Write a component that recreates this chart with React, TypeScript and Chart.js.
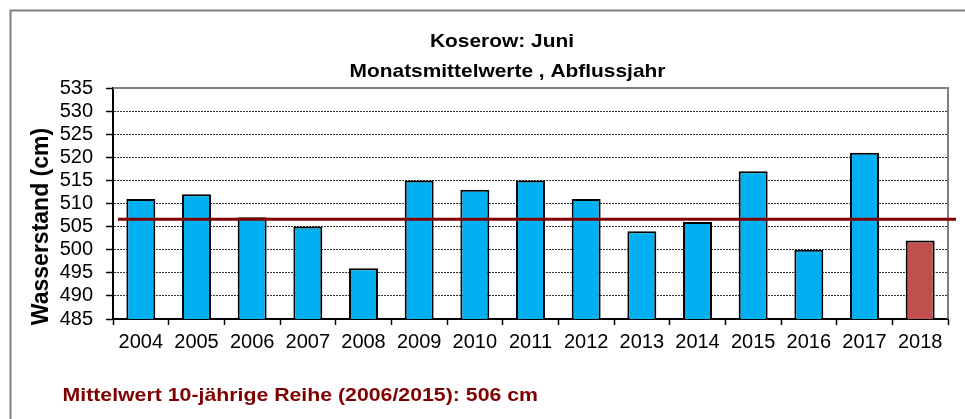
import React, { useEffect, useRef } from 'react';
import { Chart, registerables } from 'chart.js';

Chart.register(...registerables);

// ---- data ----
const years = ['2004', '2005', '2006', '2007', '2008', '2009', '2010', '2011', '2012', '2013', '2014', '2015', '2016', '2017', '2018'];
const waterLevels = [511, 512, 507, 505, 496, 515, 513, 515, 511, 504, 506, 517, 500, 521, 502];
const barColors = ['#00B0F0', '#00B0F0', '#00B0F0', '#00B0F0', '#00B0F0', '#00B0F0', '#00B0F0', '#00B0F0', '#00B0F0', '#00B0F0', '#00B0F0', '#00B0F0', '#00B0F0', '#00B0F0', '#C0504D'];
const meanValue = 506.6;
const yMin = 485;
const yMax = 535;
const yStep = 5;

const titleText = 'Koserow: Juni';
const subtitleText = 'Monatsmittelwerte , Abflussjahr';
const yAxisTitle = 'Wasserstand (cm)';
const noteText = 'Mittelwert 10-jährige Reihe (2006/2015): 506 cm';

const FONT = '"Liberation Sans", Arial, sans-serif';

function drawText(ctx: CanvasRenderingContext2D, text: string, x: number, y: number, font: string, color: string, align: CanvasTextAlign, sx: number) {
  ctx.save();
  ctx.font = font;
  ctx.fillStyle = color;
  ctx.textAlign = align;
  ctx.textBaseline = 'alphabetic';
  ctx.translate(x, y);
  ctx.scale(sx, 1);
  ctx.fillText(text, 0, 0);
  ctx.restore();
}

const decorPlugin = {
  id: 'decor',
  beforeDraw(chart: any) {
    const ctx = chart.ctx as CanvasRenderingContext2D;
    ctx.save();
    ctx.fillStyle = '#ffffff';
    ctx.fillRect(0, 0, chart.width, chart.height);
    ctx.strokeStyle = '#808080';
    ctx.lineWidth = 2;
    ctx.strokeRect(10.5, 10.5, chart.width + 50, chart.height + 50);
    ctx.restore();
  },
  beforeDatasetsDraw(chart: any) {
    const ctx = chart.ctx as CanvasRenderingContext2D;
    const { left, right, top, bottom } = chart.chartArea;
    ctx.save();
    ctx.strokeStyle = '#808080';
    ctx.lineWidth = 2;
    ctx.beginPath();
    ctx.moveTo(left, top);
    ctx.lineTo(right, top);
    ctx.lineTo(right, bottom);
    ctx.stroke();
    ctx.restore();
  },
  afterDatasetsDraw(chart: any) {
    const ctx = chart.ctx as CanvasRenderingContext2D;
    const { left, right } = chart.chartArea;
    const y = chart.scales.y.getPixelForValue(meanValue);
    ctx.save();
    ctx.strokeStyle = '#800000';
    ctx.lineWidth = 3;
    ctx.beginPath();
    ctx.moveTo(left + 5, y);
    ctx.lineTo(right + 8, y);
    ctx.stroke();
    ctx.restore();
  },
  afterDraw(chart: any) {
    const ctx = chart.ctx as CanvasRenderingContext2D;
    drawText(ctx, titleText, 502, 47, `bold 19px ${FONT}`, '#000', 'center', 1.1);
    drawText(ctx, subtitleText, 507.5, 77, `bold 19px ${FONT}`, '#000', 'center', 1.1);
    drawText(ctx, noteText, 62.5, 401, `bold 19px ${FONT}`, '#800000', 'left', 1.12);
    ctx.save();
    ctx.translate(48, 226.5);
    ctx.rotate(-Math.PI / 2);
    ctx.font = `bold 23px ${FONT}`;
    ctx.fillStyle = '#000';
    ctx.textAlign = 'center';
    ctx.textBaseline = 'alphabetic';
    ctx.fillText(yAxisTitle, 0, 0);
    ctx.restore();
  },
};

export default function App() {
  const canvasRef = useRef<HTMLCanvasElement | null>(null);

  useEffect(() => {
    if (!canvasRef.current) return;
    const chart = new Chart(canvasRef.current, {
      type: 'bar',
      data: {
        labels: years,
        datasets: [
          {
            data: waterLevels,
            backgroundColor: barColors,
            borderColor: '#000000',
            borderWidth: 2,
            borderSkipped: false,
            barPercentage: 0.52,
            categoryPercentage: 1,
          },
        ],
      },
      options: {
        responsive: false,
        animation: false,
        events: [],
        layout: { padding: { top: 88, right: 17, left: 0, bottom: 0 } },
        plugins: {
          legend: { display: false },
          tooltip: { enabled: false },
          title: { display: false },
        },
        scales: {
          x: {
            offset: true,
            grid: {
              display: true,
              offset: true,
              drawOnChartArea: false,
              drawTicks: true,
              tickLength: 6,
              tickColor: '#000',
              tickWidth: 1.5,
            },
            border: { display: true, color: '#000', width: 2 },
            ticks: {
              color: '#000',
              font: { family: FONT, size: 20 },
              padding: 5,
              maxRotation: 0,
              autoSkip: false,
            },
            afterFit: (s: any) => {
              s.height = 100;
            },
          },
          y: {
            min: yMin,
            max: yMax,
            grid: {
              display: true,
              drawTicks: true,
              tickLength: 7,
              tickColor: '#000',
              tickWidth: 1.5,
              lineWidth: 1,
              color: (c: any) =>
                c.tick && (c.tick.value === yMax || c.tick.value === yMin) ? 'rgba(0,0,0,0)' : '#333333',
              tickBorderDash: [],
            },
            border: { display: true, color: '#000', width: 2, dash: [2, 1] },
            ticks: {
              stepSize: yStep,
              autoSkip: false,
              color: '#000',
              font: { family: FONT, size: 20 },
              padding: 13,
            },
            afterFit: (s: any) => {
              s.width = 113;
            },
          },
        },
      },
      plugins: [decorPlugin],
    });
    return () => chart.destroy();
  }, []);

  return (
    <div style={{ position: 'absolute', left: 0, top: 0, width: 965, height: 419, background: '#fff' }}>
      <canvas ref={canvasRef} width={965} height={419} style={{ display: 'block', width: 965, height: 419 }} />
    </div>
  );
}
